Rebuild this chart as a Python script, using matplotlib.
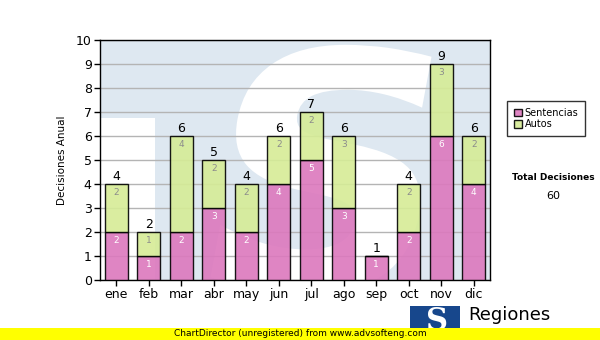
import matplotlib
matplotlib.use("Agg")
import matplotlib.pyplot as plt
from matplotlib.patches import Rectangle, PathPatch
from matplotlib.textpath import TextPath
from matplotlib.font_manager import FontProperties
from matplotlib.transforms import Affine2D
import numpy as np

# Monthly decisions
meses = ["ene", "feb", "mar", "abr", "may", "jun", "jul", "ago", "sep", "oct", "nov", "dic"]
sentencias = [2, 1, 2, 3, 2, 4, 5, 3, 1, 2, 6, 4]
autos = [2, 1, 4, 2, 2, 2, 2, 3, 0, 2, 3, 2]

PINK = "#dc78bd"
GREEN = "#d6ec96"
WATERMARK = "#dee8f1"

fig = plt.figure(figsize=(6, 3.4), dpi=100)
ax = fig.add_axes([100 / 600, 60 / 340, 390 / 600, 240 / 340])
ax.set_facecolor(WATERMARK)

# background logo: white cut-out on the left and a big slanted white S
ax.add_patch(Rectangle((0, 0), 55 / 390, 162 / 240, transform=ax.transAxes,
                       facecolor="white", edgecolor="none", zorder=0.1))
s_path = TextPath((0, 0), "S", size=1,
                  prop=FontProperties(family="DejaVu Sans", weight="bold"))
s_path = s_path.transformed(Affine2D().skew_deg(10, 0))
ext = s_path.get_extents()
box_x0, box_x1, box_y0, box_y1 = 2.9, 9.7, -0.6, 9.8
fit = (Affine2D().translate(-ext.x0, -ext.y0)
       .scale((box_x1 - box_x0) / ext.width, (box_y1 - box_y0) / ext.height)
       .translate(box_x0, box_y0))
ax.add_patch(PathPatch(s_path.transformed(fit), facecolor="white", edgecolor="none",
                       zorder=0.2, clip_on=True))

x = np.arange(len(meses))
total = np.array(sentencias) + np.array(autos)

ax.bar(x, sentencias, width=0.71, color=PINK, edgecolor="black", linewidth=1,
       alpha=0.9, zorder=3, label="Sentencias")
ax.bar(x, autos, width=0.71, bottom=sentencias, color=GREEN, edgecolor="black",
       linewidth=1, alpha=0.9, zorder=3, label="Autos")

for i in range(len(meses)):
    if sentencias[i] > 0:
        ax.text(x[i], sentencias[i] - 0.18, str(sentencias[i]), ha="center", va="top",
                fontsize=6.5, color="white", zorder=4)
    if autos[i] > 0:
        ax.text(x[i], total[i] - 0.18, str(autos[i]), ha="center", va="top",
                fontsize=6.5, color="#8c8c8c", zorder=4)
    ax.text(x[i], total[i] + 0.05, str(total[i]), ha="center", va="bottom",
            fontsize=9, color="black", zorder=4)

ax.set_xlim(-0.5, 11.5)
ax.set_ylim(0, 10)
ax.set_yticks(range(0, 11))
ax.set_xticks(x)
ax.set_xticklabels(meses)
ax.yaxis.grid(True, color="#b4b4b4", linewidth=1, zorder=1)
ax.set_axisbelow(True)
ax.tick_params(axis="both", labelsize=9, length=4, width=1, color="black", pad=2)
for s in ax.spines.values():
    s.set_color("black")
    s.set_linewidth(1)
ax.set_ylabel("Decisiones Anual", fontsize=7.5, labelpad=6)

leg = fig.legend(*ax.get_legend_handles_labels(), loc="upper left",
                 bbox_to_anchor=(507 / 600, 1 - 101 / 340),
                 fontsize=7, frameon=True, fancybox=False, edgecolor="black",
                 handlelength=0.8, handleheight=0.8, handletextpad=0.3,
                 borderpad=0.7, labelspacing=0.15, borderaxespad=0)
leg.get_frame().set_linewidth(1)

fig.text(553 / 600, 1 - 178 / 340, "Total Decisiones", ha="center", va="center",
         fontsize=6.5, fontweight="bold")
fig.text(553 / 600, 1 - 196 / 340, "60", ha="center", va="center", fontsize=8)

# footer logo and title
fig.patches.append(Rectangle((410 / 600, 1 - 336 / 340), 50 / 600, 30 / 340,
                             transform=fig.transFigure, facecolor="#17478c",
                             edgecolor="none", zorder=1))
fig.text(437 / 600, 1 - 321 / 340, "S", ha="center", va="center", fontsize=22,
         family="DejaVu Serif", fontweight="bold", color="white", zorder=2)
fig.text(468 / 600, 1 - 315 / 340, "Regiones", ha="left", va="center", fontsize=13)
fig.text(468 / 600, 1 - 333 / 340, "Tribunal Supremo de Justicia", ha="left",
         va="center", fontsize=7)

# yellow banner
fig.patches.append(Rectangle((0, 0), 1, 12 / 340, transform=fig.transFigure,
                             facecolor="#ffff00", edgecolor="none", zorder=5))
fig.text(0.5, 6 / 340, "ChartDirector (unregistered) from www.advsofteng.com",
         ha="center", va="center", fontsize=6.5, zorder=6)

fig.savefig("out.png", dpi=100)
